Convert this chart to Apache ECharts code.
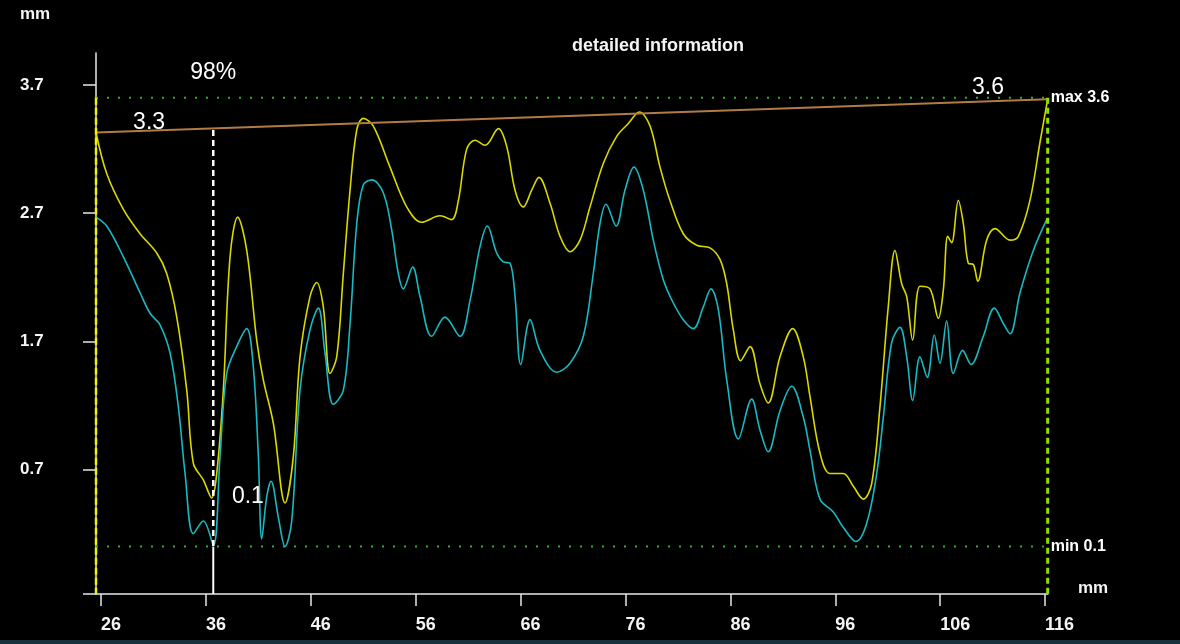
<!DOCTYPE html>
<html>
<head>
<meta charset="utf-8">
<title>detailed information</title>
<script src="https://cdn.jsdelivr.net/npm/echarts@6/dist/echarts.min.js"></script>
<style>
  html, body { margin: 0; padding: 0; background: #000; }
  #chart { width: 1180px; height: 644px; }
</style>
</head>
<body>
<div id="chart"></div>
<script>
// profile readings, position (mm) / value (mm)
var xTicks = [26, 36, 46, 56, 66, 76, 86, 96, 106, 116];
var yTicks = [0.7, 1.7, 2.7, 3.7];

var upperProfile = [
  [25.52,3.33],[26.54,3.01],[28.13,2.73],[29.72,2.54],[31.31,2.39],[32.26,2.23],[33.22,1.89],[34.17,1.32],
  [34.8,0.75],[35.75,0.62],[36.55,0.48],[37.03,0.67],[37.66,1.32],[38.3,2.36],[39.03,2.67],[39.89,2.41],
  [40.84,1.71],[41.47,1.40],[42.43,1.06],[43.54,0.44],[44.33,0.80],[44.97,1.58],[45.92,2.05],[46.56,2.16],
  [47.19,1.97],[47.83,1.45],[48.47,1.58],[49.1,2.23],[49.74,2.88],[50.38,3.35],[51.0,3.44],[51.96,3.38],
  [53.55,3.06],[55.14,2.75],[56.57,2.63],[58.32,2.68],[59.43,2.65],[60.07,2.80],[60.86,3.20],[61.65,3.27],
  [62.61,3.23],[63.88,3.36],[64.68,3.22],[65.47,2.88],[66.26,2.75],[67.06,2.88],[67.75,2.98],[68.8,2.78],
  [69.76,2.52],[70.71,2.40],[71.66,2.49],[72.62,2.75],[73.89,3.09],[75.16,3.30],[76.27,3.40],[77.32,3.49],
  [78.34,3.38],[79.29,3.06],[80.24,2.80],[81.51,2.54],[82.79,2.45],[84.06,2.43],[85.01,2.34],[85.65,2.15],
  [86.28,1.79],[86.98,1.55],[87.87,1.66],[88.82,1.37],[89.61,1.22],[90.73,1.58],[91.94,1.80],[92.95,1.58],
  [93.59,1.27],[94.54,0.83],[95.49,0.67],[96.76,0.67],[97.72,0.57],[98.67,0.47],[99.47,0.59],[100.26,1.19],
  [101.05,1.97],[101.69,2.41],[102.33,2.15],[102.81,2.05],[103.38,1.71],[104.07,2.13],[105.03,2.11],[105.82,1.88],
  [106.3,2.10],[106.72,2.52],[107.09,2.47],[107.73,2.80],[108.21,2.62],[108.68,2.31],[109.16,2.30],[109.58,2.17],
  [110.43,2.49],[111.23,2.58],[112.66,2.49],[113.45,2.52],[114.56,2.80],[115.51,3.25],[116.25,3.59]
];

var lowerProfile = [
  [25.52,2.67],[26.54,2.60],[28.13,2.36],[29.72,2.08],[30.67,1.92],[31.62,1.83],[32.58,1.61],[33.37,1.19],
  [34.01,0.67],[34.8,0.20],[35.75,0.30],[36.71,0.11],[37.34,0.80],[37.98,1.45],[38.93,1.66],[39.89,1.80],
  [40.52,1.50],[41.0,0.80],[41.32,0.16],[41.8,0.49],[42.21,0.61],[42.9,0.33],[43.54,0.10],[44.18,0.30],
  [44.97,1.32],[45.92,1.79],[46.72,1.96],[47.35,1.61],[48.14,1.21],[49.1,1.32],[49.74,1.84],[50.38,2.62],
  [51.0,2.92],[51.81,2.96],[52.91,2.86],[53.71,2.57],[54.34,2.23],[54.82,2.11],[55.71,2.28],[56.41,2.05],
  [57.52,1.74],[58.79,1.89],[60.22,1.74],[61.18,2.02],[62.13,2.44],[62.83,2.60],[63.72,2.39],[64.36,2.32],
  [64.99,2.31],[65.47,2.05],[66.01,1.52],[66.9,1.87],[67.85,1.63],[69.44,1.46],[70.71,1.53],[71.98,1.74],
  [72.93,2.23],[73.57,2.62],[74.14,2.77],[75.1,2.60],[75.95,2.88],[76.81,3.06],[77.7,2.88],[78.65,2.49],
  [79.61,2.18],[80.56,2.00],[81.51,1.87],[82.47,1.80],[83.42,1.97],[84.15,2.11],[84.85,1.95],[85.65,1.40],
  [86.76,0.94],[88.03,1.25],[88.82,1.01],[89.61,0.84],[90.73,1.16],[91.85,1.35],[92.95,1.11],[93.59,0.85],
  [94.54,0.47],[95.81,0.37],[96.76,0.25],[97.97,0.14],[98.99,0.28],[99.95,0.67],[100.58,1.11],[101.37,1.69],
  [102.17,1.81],[102.81,1.58],[103.38,1.24],[104.07,1.58],[104.77,1.42],[105.44,1.75],[105.98,1.53],[106.62,1.86],
  [107.25,1.45],[108.14,1.63],[108.94,1.52],[110.11,1.74],[111.16,1.96],[112.02,1.84],[112.66,1.76],[113.61,2.08],
  [114.88,2.41],[116.21,2.66]
];

var xStart = 25.52, xEnd = 116.25;
var xMin = 25.52, xMax = 116.28, yMin = -0.27, yMax = 3.95;
var refStart = 3.33, refEnd = 3.59;     // brown reference line
var maxVal = 3.6, minVal = 0.1;
var cursorX = 36.7, cursorTop = 3.35;

// annotation texts and where they sit (data coords)
var noteText = ['98%', '3.3', '3.6', '0.1'];
var noteX = [cursorX, 30.58, 110.56, 40.0];
var noteY = [3.80, 3.41, 3.68, 0.49];

var font = "'Liberation Sans', Arial, sans-serif";

var chart = echarts.init(document.getElementById('chart'));

function seg(pts, color, width, type, z) {
  return {
    type: 'line', data: pts, symbol: 'none', silent: true, z: z || 3,
    lineStyle: { color: color, width: width, type: type || 'solid' }
  };
}

var notes = noteText.map(function (t, i) {
  return { value: [noteX[i], noteY[i]], name: t };
});

var option = {
  backgroundColor: '#000',
  animation: false,
  grid: { left: 96, right: 132, top: 53, bottom: 50 },
  xAxis: {
    type: 'value', min: xMin, max: xMax,
    axisLine: { onZero: false, lineStyle: { color: '#e8e8e8', width: 1.5 } },
    axisTick: { show: true, length: 12, customValues: xTicks, lineStyle: { color: '#e8e8e8', width: 1.5 } },
    axisLabel: {
      customValues: xTicks, align: 'left', margin: 22,
      color: '#f4f4f4', fontFamily: font, fontWeight: 'bold', fontSize: 18
    },
    splitLine: { show: false }
  },
  yAxis: {
    type: 'value', min: yMin, max: yMax,
    axisLine: { show: true, onZero: false, lineStyle: { color: '#e8e8e8', width: 1.5 } },
    axisTick: { show: true, length: 13, customValues: [yMin].concat(yTicks), lineStyle: { color: '#e8e8e8', width: 1.5 } },
    axisLabel: {
      customValues: yTicks, align: 'left', margin: 76,
      color: '#f4f4f4', fontFamily: font, fontWeight: 'bold', fontSize: 17
    },
    splitLine: { show: false }
  },
  graphic: [
    { type: 'text', left: 20, top: 6, style: { text: 'mm', fill: '#f4f4f4', font: 'bold 17px ' + font } },
    { type: 'text', left: 572, top: 37, style: { text: 'detailed information', fill: '#f4f4f4', font: 'bold 18px ' + font } },
    { type: 'text', left: 1078, top: 580, style: { text: 'mm', fill: '#f4f4f4', font: 'bold 17px ' + font } },
    { type: 'rect', left: 0, bottom: 0, shape: { width: 1180, height: 4 }, style: { fill: '#17323e' } }
  ],
  series: [
    seg([[xStart, maxVal], [xEnd, maxVal]], '#2fae2f', 2, [2, 9], 2),
    seg([[xStart, minVal], [xEnd, minVal]], '#2fae2f', 2, [2, 9], 2),
    {
      type: 'line', name: 'upper', data: upperProfile, symbol: 'none', smooth: 0.35, z: 4,
      lineStyle: { color: '#d9d900', width: 1.6 }
    },
    {
      type: 'line', name: 'lower', data: lowerProfile, symbol: 'none', smooth: 0.35, z: 4,
      lineStyle: { color: '#17b9c2', width: 1.6 }
    },
    seg([[xStart, refStart], [xEnd, refEnd]], '#b07c45', 2, 'solid', 5),
    seg([[xStart, maxVal], [xStart, yMin]], '#f2f200', 2.5, [7, 3], 6),
    seg([[xEnd, maxVal], [xEnd, yMin]], '#8fe000', 3, [6, 4], 6),
    seg([[cursorX, cursorTop], [cursorX, minVal]], '#ffffff', 2.5, [6, 4], 6),
    seg([[cursorX, minVal], [cursorX, yMin]], '#ffffff', 2, 'solid', 6),
    {
      type: 'scatter', data: notes, symbolSize: 0, silent: true, z: 7,
      itemStyle: { opacity: 1 },
      label: {
        show: true, position: 'inside', formatter: '{b}',
        color: '#ffffff', fontFamily: font, fontSize: 23
      }
    },
    {
      type: 'scatter', symbolSize: 0, silent: true, z: 7,
      itemStyle: { opacity: 1 },
      data: [
        { value: [xEnd, maxVal], name: 'max ' + maxVal },
        { value: [xEnd, minVal], name: 'min ' + minVal }
      ],
      label: {
        show: true, position: 'right', distance: 3, formatter: '{b}',
        color: '#ffffff', fontFamily: font, fontWeight: 'bold', fontSize: 16
      }
    }
  ]
};

chart.setOption(option);
</script>
</body>
</html>
